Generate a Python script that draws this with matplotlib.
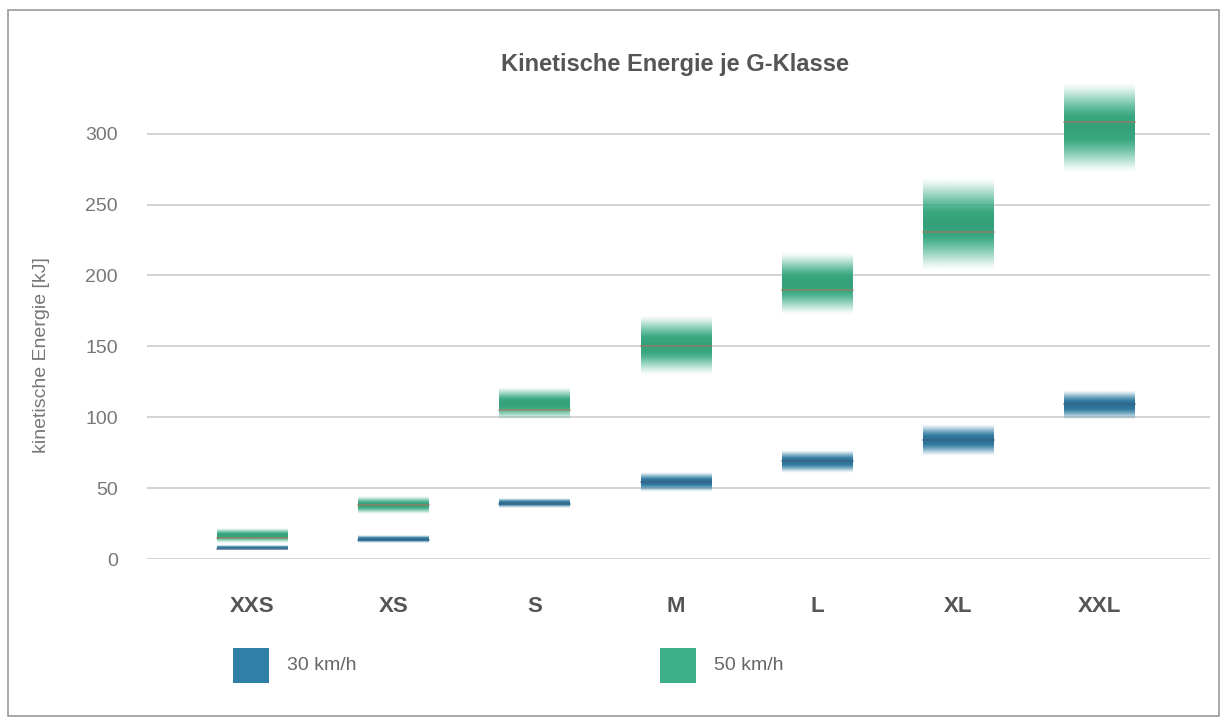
import numpy as np
import matplotlib
matplotlib.use("Agg")
import matplotlib.pyplot as plt
from matplotlib.colors import to_rgb
from matplotlib.patches import Rectangle

plt.rcParams["font.family"] = ["Liberation Sans", "DejaVu Sans"]

classes = ["XXS", "XS", "S", "M", "L", "XL", "XXL"]

# 50 km/h: lower edge, middle, upper edge of the band (kJ)
v50_low = [11, 32, 98, 130, 172, 203, 272]
v50_mid = [15, 38, 105, 150, 190, 231, 308]
v50_high = [21, 44, 121, 172, 216, 269, 336]

# 30 km/h
v30_low = [6, 11, 36, 47, 61, 73, 98]
v30_mid = [7, 13.5, 39, 54, 69, 84, 109]
v30_high = [9, 16, 43, 61, 77, 95, 119]

series_labels = ["30 km/h", "50 km/h"]
col30 = "#2f7fa6"
col50 = "#3daf88"


def _band(ax, x, lo, mid, hi, color, dark, line_color, width=0.5):
    # vertical gradient: darker and solid in the middle, fading out at top and bottom
    n = 200
    t = np.linspace(-1, 1, n)
    alpha = np.clip(1.1 * (1 - t ** 2) ** 1.5, 0, 1)
    mix = np.clip(1 - np.abs(t) * 1.6, 0, 1)[:, None] * 0.45
    c1 = np.array(to_rgb(color))
    c2 = np.array(to_rgb(dark))
    rgb = c1 * (1 - mix) + c2 * mix
    rgba = np.zeros((n, 2, 4))
    rgba[:, :, :3] = rgb[:, None, :]
    rgba[:, :, 3] = alpha[:, None]
    ax.imshow(rgba, extent=(x - width / 2, x + width / 2, lo, hi),
              aspect="auto", origin="lower", interpolation="bilinear", zorder=3)
    ax.plot([x - width / 2, x + width / 2], [mid, mid], color=line_color,
            lw=1.1, alpha=0.7, zorder=4)


fig = plt.figure(figsize=(12.27, 7.22), dpi=100)
fig.patch.set_facecolor("white")
fig.patches.append(Rectangle((8 / 1227, 6 / 722), 1211 / 1227, 706 / 722,
                             transform=fig.transFigure, fill=False,
                             edgecolor="#9a9a9a", lw=1.2))

ax = fig.add_axes([147 / 1227, 1 - 559 / 722, (1210 - 147) / 1227, (559 - 77) / 722])
xs = np.arange(len(classes))
for i in xs:
    _band(ax, i, v50_low[i], v50_mid[i], v50_high[i], col50, "#2a8f68", "#b0705a")
    _band(ax, i, v30_low[i], v30_mid[i], v30_high[i], col30, "#2c5f85", "#3d5f80")

ax.set_xlim(-0.743, 6.78)
ax.set_ylim(0, 340)
ax.set_yticks(range(0, 301, 50))
ax.yaxis.grid(True, color="#cccccc", lw=1.2, zorder=0)
ax.set_axisbelow(True)
for s in ax.spines.values():
    s.set_visible(False)
ax.tick_params(axis="y", length=0, pad=21, labelsize=14, labelcolor="#777777")
ax.set_xticks(xs)
ax.set_xticklabels(classes, fontweight="bold", fontsize=16, color="#555555")
ax.tick_params(axis="x", length=0, pad=27)

fig.text(42 / 1227, 1 - 355 / 722, "kinetische Energie [kJ]", rotation=90,
         ha="center", va="center", fontsize=14, color="#777777")

fig.text(675 / 1227, 1 - 65 / 722, "Kinetische Energie je G-Klasse",
         ha="center", va="center", fontsize=17, fontweight="bold", color="#555555")

# legend
for col, lab, x0 in [(col30, series_labels[0], 233), (col50, series_labels[1], 660)]:
    fig.patches.append(Rectangle((x0 / 1227, 1 - 683 / 722), 36 / 1227, 35 / 722,
                                 transform=fig.transFigure, facecolor=col, edgecolor="none"))
    fig.text((x0 + 54) / 1227, 1 - 665 / 722, lab, ha="left", va="center",
             fontsize=14, color="#666666")

fig.savefig("out.png", dpi=100)
